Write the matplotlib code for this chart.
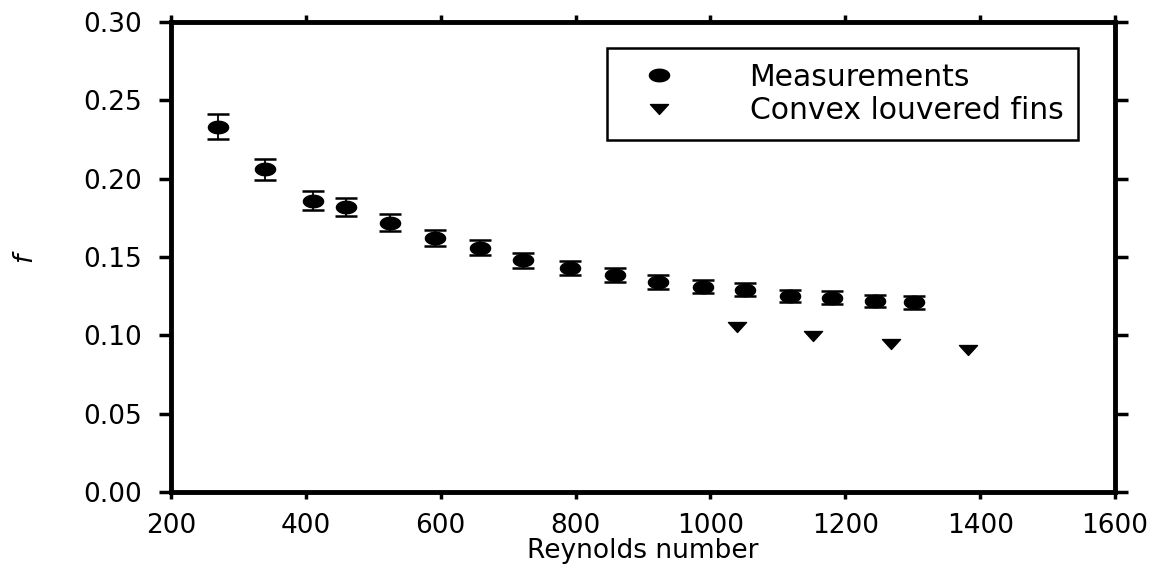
import numpy as np
import matplotlib
matplotlib.use("Agg")
import matplotlib.pyplot as plt
from matplotlib.path import Path
from matplotlib.ticker import FormatStrFormatter

# friction factor vs Reynolds number
re_meas = [270, 340, 410, 460, 525, 592, 658, 722, 792, 858, 922, 989, 1051, 1118, 1180, 1244, 1302]
f_meas = [0.233, 0.206, 0.186, 0.182, 0.172, 0.162, 0.156, 0.148, 0.143, 0.1385, 0.134, 0.131, 0.129, 0.125, 0.124, 0.122, 0.121]
f_err = [0.008, 0.0067, 0.006, 0.0057, 0.0053, 0.0052, 0.005, 0.0048, 0.0046, 0.0045,
         0.0043, 0.0042, 0.0041, 0.004, 0.004, 0.0039, 0.0039]

re_fins = [1039, 1152, 1268, 1382]
f_fins = [0.105, 0.0996, 0.0945, 0.0908]

xticks = [200, 400, 600, 800, 1000, 1200, 1400, 1600]
yticks = [0.00, 0.05, 0.10, 0.15, 0.20, 0.25, 0.30]

# flattened markers (wider than tall)
t = np.linspace(0, 2 * np.pi, 60)
ellipse = Path(np.column_stack([np.cos(t), 0.62 * np.sin(t)]), closed=True)
flat_tri = Path([(-1, 0.55), (1, 0.55), (0, -0.55), (-1, 0.55)], closed=True)

plt.rcParams['font.family'] = ['DejaVu Sans']
fig = plt.figure(figsize=(11.61, 5.67), dpi=100)
ax = fig.add_axes([0.1473, 0.1323, 0.8131, 0.8289])

ax.errorbar(re_meas, f_meas, yerr=f_err, fmt='none', ecolor='black',
            elinewidth=1.3, capsize=8, capthick=1.8, zorder=2)
ax.plot(re_meas, f_meas, linestyle='none', marker=ellipse, markersize=14.5,
        color='black', label='Measurements', zorder=3)
ax.plot(re_fins, f_fins, linestyle='none', marker=flat_tri, markersize=13,
        color='black', label='Convex louvered fins', zorder=3)

ax.set_xlim(200, 1600)
ax.set_ylim(0, 0.30)
ax.set_xticks(xticks)
ax.set_yticks(yticks)
ax.yaxis.set_major_formatter(FormatStrFormatter('%.2f'))

for s in ax.spines.values():
    s.set_linewidth(3.5)
ax.tick_params(axis='both', which='major', direction='out', labelsize=19,
               width=2.5, top=True, right=True, labeltop=False, labelright=False)
ax.tick_params(axis='x', length=5, pad=10)
ax.tick_params(axis='y', length=9, pad=12)

ax.set_xlabel('Reynolds number', fontsize=19, va='top')
ax.xaxis.set_label_coords(0.5, -0.098)
ax.set_ylabel('f', fontsize=19, style='italic', va='center')
ax.yaxis.set_label_coords(-0.155, 0.5)

leg = ax.legend(loc='upper right', bbox_to_anchor=(0.961, 0.945), borderaxespad=0,
                fontsize=21.5, fancybox=False, edgecolor='black', framealpha=1,
                handletextpad=1.8, handlelength=2.47, labelspacing=0.15,
                borderpad=0.5)
leg.get_frame().set_linewidth(1.8)

fig.savefig('out.png', dpi=100)
